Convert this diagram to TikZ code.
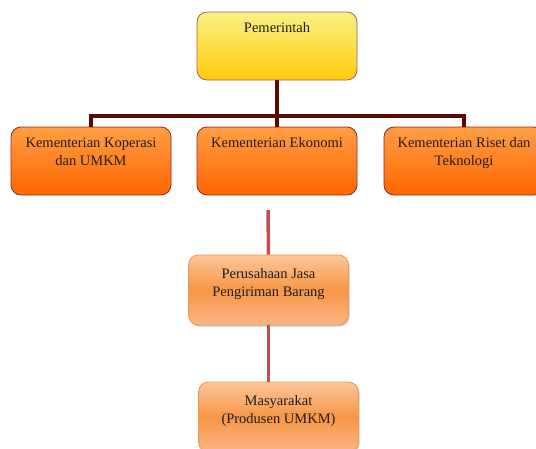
\documentclass[tikz,border=0pt]{standalone}
\usepackage{fontspec}
\setmainfont{Liberation Serif}
\usetikzlibrary{positioning,shadows}

\definecolor{trunkred}{HTML}{5A0A05}
\definecolor{linkred}{HTML}{C0504D}
\definecolor{boxedge}{HTML}{8E2A1E}
\definecolor{peachedge}{HTML}{F29550}
\definecolor{pemtop}{HTML}{F8F184}
\definecolor{pembot}{HTML}{FFCC0A}
\definecolor{midtop}{HTML}{FF9E44}
\definecolor{midbot}{HTML}{FF6600}
\definecolor{lowtop}{HTML}{FBC699}
\definecolor{lowmid}{HTML}{F79646}
\definecolor{lowbot}{HTML}{FAB585}

\newcommand{\boxlines}[1]{\begin{tabular}[t]{@{}c@{}}#1\end{tabular}}

\tikzset{
  unit/.style={rounded corners=10pt, minimum width=160pt, minimum height=68pt,
    inner sep=3pt, text height=17pt, text depth=45pt,
    font=\fontsize{14.5}{18}\selectfont, text=black!88},
  topbox/.style={unit, draw=boxedge!75, thick, top color=pemtop, bottom color=pembot},
  midbox/.style={unit, draw=boxedge, thick, top color=midtop, bottom color=midbot},
  lowbox/.style={unit, draw=peachedge, thick, minimum height=70pt, text height=20pt, text depth=44pt,
    top color=lowtop, bottom color=lowbot, middle color=lowmid,
    drop shadow={shadow xshift=1pt, shadow yshift=-1.5pt, fill=black!40}},
  trunk/.style={trunkred, line width=4pt},
  link/.style={linkred, line width=3.5pt}
}

\begin{document}
\begin{tikzpicture}[x=1pt, y=-1pt]
  \useasboundingbox (0,0) rectangle (536,448);
  \clip (0,0) rectangle (536,448);

  \node[topbox] (pem) at (277,46) {\boxlines{Pemerintah}};
  \node[midbox] (kop) at (91,161) {\boxlines{Kementerian Koperasi\\dan UMKM}};
  \node[midbox] (eko) at (277,161) {\boxlines{Kementerian Ekonomi}};
  \node[midbox] (ris) at (464,161) {\boxlines{Kementerian Riset dan\\Teknologi}};
  \node[lowbox] (pers) at (268.5,290) {\boxlines{Perusahaan Jasa\\Pengiriman Barang}};
  \node[lowbox] (mas) at (278.5,417) {\boxlines{Masyarakat\\(Produsen UMKM)}};

  % struktur atas
  \coordinate (bar) at (277,116);
  \draw[trunk] (pem.south) -- (bar);
  \draw[trunk] (bar) -| (kop.north);
  \draw[trunk] (bar) -| (ris.north);
  \draw[trunk] (bar) -- (eko.north);

  % jalur bawah
  \coordinate (ekoEnd) at (268,210);
  \draw[link] (ekoEnd) -- (pers.north);
  \draw[link] (pers.south) -- (pers.south |- mas.north);
\end{tikzpicture}
\end{document}
